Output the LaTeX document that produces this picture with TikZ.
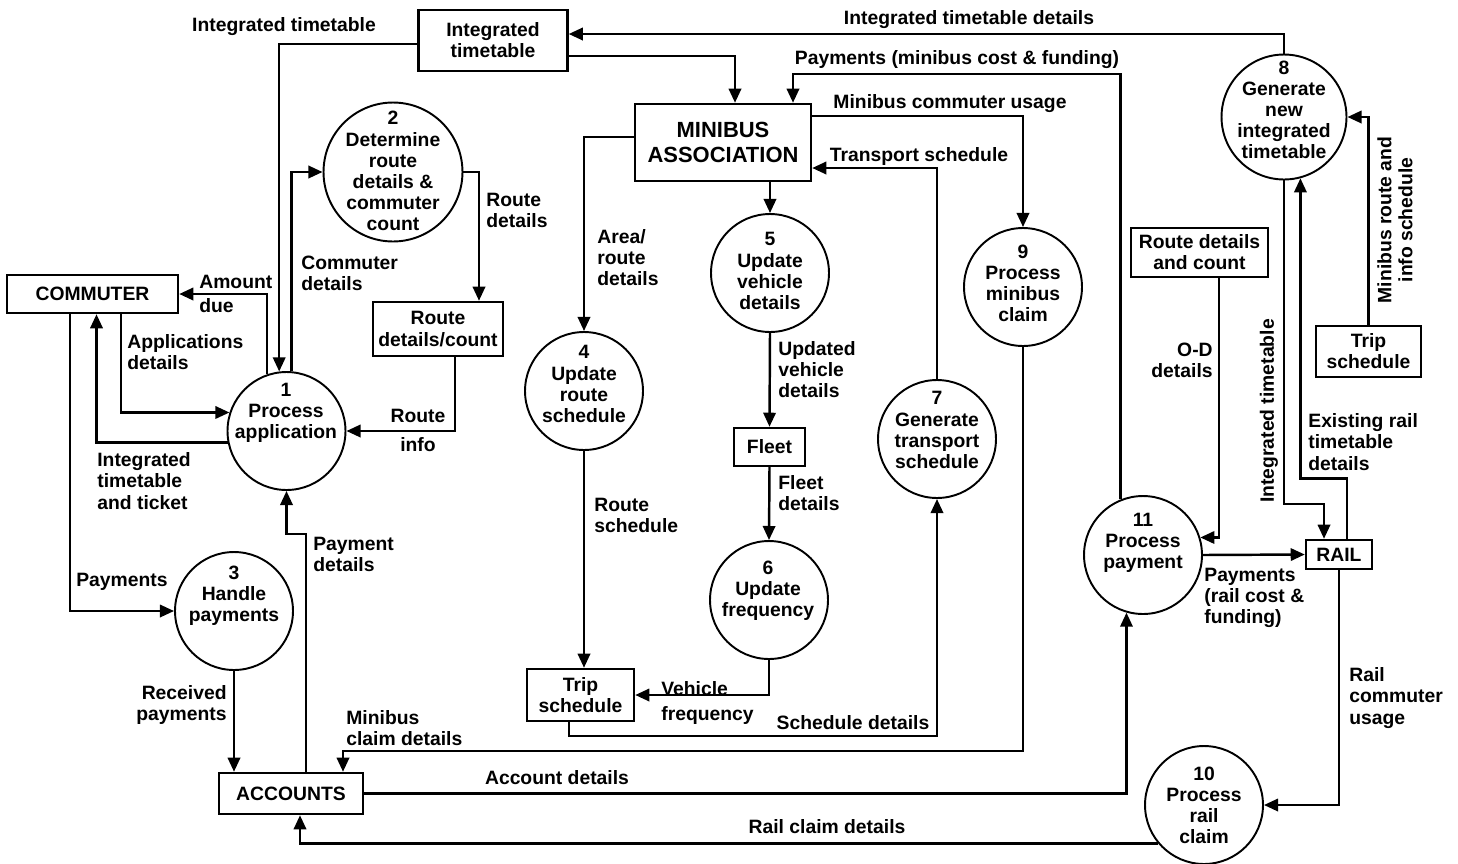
\documentclass[tikz,border=0pt]{standalone}
\usepackage{fontspec}
\setmainfont{Liberation Sans}
\usetikzlibrary{arrows.meta,calc}
\tikzset{%
	proc/.style  = {draw, circle, line width=1.1pt, minimum size=2.36cm, inner sep=0pt},
	ptext/.style = {align=center, inner sep=0pt},
	store/.style = {draw, rectangle, line width=1.4pt, align=center, inner sep=0pt},
	lbl/.style   = {align=left, inner sep=0pt},
	flow/.style  = {line width=1.4pt, -{Triangle[length=8pt,width=7pt]}},
}
\begin{document}
\begin{tikzpicture}[x=0.02cm, y=-0.02cm, every node/.style={font=\bfseries\fontsize{11}{12}\selectfont}]
	\useasboundingbox (0,0) rectangle (1458,863);
	
	% stores and entities
	\node[store, minimum width=2.98cm, minimum height=1.22cm] (tt) at (493,40.5) {Integrated\\timetable};
	\node[store, minimum width=3.52cm, minimum height=1.54cm, font=\bfseries\fontsize{12.5}{14}\selectfont] (mb) at (723,142.5) {MINIBUS\\ASSOCIATION};
	\node[store, minimum width=3.42cm, minimum height=0.76cm] (cm) at (92.5,294) {COMMUTER};
	\node[store, minimum width=2.6cm, minimum height=1.08cm] (rd) at (438,329) {Route\\details/count};
	\node[store, minimum width=1.42cm, minimum height=0.76cm] (fl) at (769.5,447) {Fleet};
	\node[store, minimum width=2.14cm, minimum height=1.04cm] (ts1) at (580.5,695) {Trip\\schedule};
	\node[store, minimum width=2.88cm, minimum height=0.82cm] (ac) at (291,793.5) {ACCOUNTS};
	\node[store, minimum width=2.74cm, minimum height=0.98cm] (rc) at (1199.5,252.5) {Route details\\and count};
	\node[store, minimum width=2.1cm, minimum height=1.02cm] (ts2) at (1368.5,351.5) {Trip\\schedule};
	\node[store, minimum width=1.32cm, minimum height=0.58cm] (rl) at (1339,554.5) {RAIL};
	
	% processes
	\node[proc] (p1) at (286.5,431) {};
	\node[ptext] (t1) at (286,413) {1\\Process\\application};
	\node[proc, minimum size=2.78cm] (p2) at (393,172) {};
	\node[ptext] (t2) at (393,171) {2\\Determine\\route\\details \&\\commuter\\count};
	\node[proc] (p3) at (234,611) {};
	\node[ptext] (t3) at (234,596) {3\\Handle\\payments};
	\node[proc] (p4) at (584,391) {};
	\node[ptext] (t4) at (584,384) {4\\Update\\route\\schedule};
	\node[proc] (p5) at (770,273) {};
	\node[ptext] (t5) at (770,271) {5\\Update\\vehicle\\details};
	\node[proc] (p6) at (769,600) {};
	\node[ptext] (t6) at (768,591) {6\\Update\\frequency};
	\node[proc] (p7) at (937,439) {};
	\node[ptext] (t7) at (937,430) {7\\Generate\\transport\\schedule};
	\node[proc, minimum size=2.5cm] (p8) at (1284,117) {};
	\node[ptext] (t8) at (1284,110) {8\\Generate\\new\\integrated\\timetable};
	\node[proc] (p9) at (1023,287) {};
	\node[ptext] (t9) at (1023,283) {9\\Process\\minibus\\claim};
	\node[proc] (p10) at (1204,805) {};
	\node[ptext] (t10) at (1204,805) {10\\Process\\rail\\claim};
	\node[proc] (p11) at (1143,555) {};
	\node[ptext] (t11) at (1143,543) {11\\Process\\payment};
	
	% flows
	\draw[flow] ($(tt.west)+(0,3.5)$) -| (p1.97);
	\draw[flow] (p1.85) |- (p2.west);
	\draw[flow] (p2.east) -| ($(rd.north)+(41,0)$);
	\draw[flow] ($(rd.south)+(17,0)$) |- (p1.east);
	\draw[flow] (p1.109) |- (cm.east);
	\draw[flow] ($(cm.south)+(28.5,0)$) |- (p1.162);
	\draw[flow] (p1.191) -| ($(cm.south)+(4,0)$);
	\draw[flow] ($(cm.south)+(-22.5,0)$) |- (p3.west);
	\draw[flow] (p3.south) -- (p3.south |- ac.north);
	\draw[flow] ($(ac.north)+(15,0)$) |- ($(p1.south)+(0,43)$) -- (p1.south);
	\draw[flow] ($(tt.east)+(0,15.5)$) -| ($(mb.north)+(12,0)$);
	\draw[flow] (p8.north) |- ($(tt.east)+(0,-6.5)$);
	\draw[flow] (p11.112) |- ($(mb.north)+(70,-29)$) -- ($(mb.north)+(70,0)$);
	\draw[flow] ($(mb.east)+(0,-26.5)$) -| (p9.north);
	\draw[flow] (p7.north) |- ($(mb.east)+(0,25.5)$);
	\draw[flow] ($(mb.west)+(0,-5.5)$) -| (p4.north);
	\draw[flow] (p5.north |- mb.south) -- (p5.north);
	\draw[flow] (p5.south) -- (fl.north);
	\draw[flow] (fl.south) -- (p6.north);
	\draw[flow] (p4.south) -- (p4.south |- ts1.north);
	\draw[flow] (p6.south) |- (ts1.east);
	\draw[flow] ($(ts1.south)+(-11.5,0)$) |- ($(p7.south)+(0,237)$) -- (p7.south);
	\draw[flow] (p9.south) |- ($(ac.north)+(52,-21)$) -- ($(ac.north)+(52,0)$);
	\draw[flow] (ac.east) -| (p11.254);
	\draw[flow] (p10.220) -| ($(ac.south)+(9,0)$);
	\draw[flow] ($(rc.south)+(19.5,0)$) |- (p11.17);
	\draw[flow] (p11.east) -- (rl.west);
	\draw[flow] (p8.south) |- ($(rl.north)+(-15,-35)$) -- ($(rl.north)+(-15,0)$);
	\draw[flow] ($(rl.north)+(8,0)$) |- ($(p8.285)+(0,300)$) -- (p8.285);
	\draw[flow] (ts2.north) |- (p8.east);
	\draw[flow] (rl.south) |- (p10.east);
	
	% flow labels
	\node[lbl] (l1) at (284,27) {Integrated timetable};
	\node[lbl, anchor=west] (l2) at (301,273) {Commuter\\details};
	\node[lbl, anchor=west] (l3) at (486,210) {Route\\details};
	\node[lbl] (l4a) at (418,416) {Route};
	\node[lbl] (l4b) at (418,445) {info};
	\node[lbl, anchor=west] (l5a) at (199,282) {Amount};
	\node[lbl, anchor=west] (l5b) at (199,306) {due};
	\node[lbl, anchor=west] (l6) at (127,352) {Applications\\details};
	\node[lbl, anchor=west] (l7) at (97,481) {Integrated\\timetable\\and ticket};
	\node[lbl, anchor=west] (l8) at (76,582) {Payments};
	\node[lbl, align=right, anchor=east] (l9) at (227,705) {Received\\payments};
	\node[lbl, anchor=west] (l10) at (313,554) {Payment\\details};
	\node[lbl] (l11) at (969,20) {Integrated timetable details};
	\node[lbl] (l12) at (957,60) {Payments (minibus cost \& funding)};
	\node[lbl] (l13) at (950,104) {Minibus commuter usage};
	\node[lbl] (l14) at (919,156) {Transport schedule};
	\node[lbl, anchor=west] (l15) at (597,258) {Area/\\route\\details};
	\node[lbl, anchor=west] (l16) at (778,370) {Updated\\vehicle\\details};
	\node[lbl, anchor=west] (l17) at (778,493) {Fleet\\details};
	\node[lbl, anchor=west] (l18) at (594,515) {Route\\schedule};
	\node[lbl, anchor=west] (l19) at (661,703) {Vehicle\\[2pt]frequency};
	\node[lbl] (l20) at (853,723) {Schedule details};
	\node[lbl, anchor=west] (l21) at (346,728) {Minibus\\claim details};
	\node[lbl] (l22) at (557,778) {Account details};
	\node[lbl] (l23) at (827,827) {Rail claim details};
	\node[lbl, align=right, anchor=east] (l24) at (1213,360) {O-D\\details};
	\node[lbl, anchor=west] (l25) at (1204,598) {Payments\\(rail cost \&\\funding)};
	\node[lbl, rotate=90] (l26) at (1269,411) {Integrated timetable};
	\node[lbl, anchor=west] (l27) at (1308,442) {Existing rail\\timetable\\details};
	\node[lbl, align=center, rotate=90] (l28) at (1395,220) {Minibus route and\\info schedule};
	\node[lbl, anchor=west] (l29) at (1349,698) {Rail\\commuter\\usage};
\end{tikzpicture}
\end{document}
